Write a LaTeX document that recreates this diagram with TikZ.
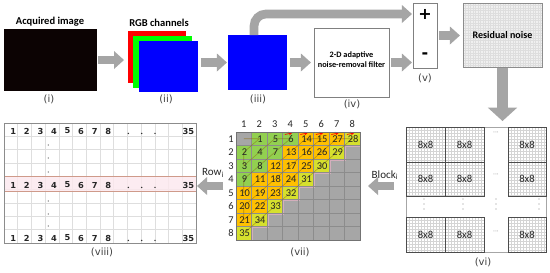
\documentclass[tikz,border=0pt]{standalone}
\usepackage{fontspec}
\setmainfont{Carlito}
\newfontfamily\dejavu{DejaVu Sans}
\usetikzlibrary{arrows.meta}
\definecolor{agray}{HTML}{A5A5A5}
\definecolor{nearblack}{RGB}{12,3,3}
\definecolor{pred}{RGB}{255,0,0}
\definecolor{pgreen}{RGB}{0,255,0}
\definecolor{pblue}{RGB}{0,0,255}
\definecolor{cgreen}{HTML}{92D050}
\definecolor{corange}{HTML}{FFC000}
\definecolor{cyellow}{HTML}{D6E02E}
\definecolor{cgray}{HTML}{A6A6A6}
\definecolor{cpink}{HTML}{F4B4CC}
\definecolor{bandfill}{HTML}{FCE8EE}
\definecolor{bandline}{HTML}{CF9A8A}
\definecolor{zzcol}{HTML}{8A6A10}
\tikzset{
  wh/.style 2 args={minimum width=#1*0.75pt, minimum height=#2*0.75pt},
  rect/.style={anchor=north west, inner sep=0pt, outer sep=0pt},
  fat/.style={draw=agray, line width=6.5pt, -{Triangle[length=7.5pt,width=13.5pt,line width=0pt]}},
  fatbig/.style={draw=agray, line width=8pt, -{Triangle[length=10pt,width=22pt,line width=0pt]}},
  ttl/.style={font=\fontsize{7.9}{9}\selectfont\bfseries, inner sep=0pt},
  lab/.style={font=\dejavu\fontsize{7.5}{9}\selectfont, text=black!75, inner sep=0pt},
  mnum/.style={font=\fontsize{7.8}{8}\selectfont, inner sep=0pt, text=black!85},
  tnum/.style={font=\dejavu\bfseries\fontsize{6.2}{7}\selectfont, inner sep=0pt, text=black!85},
  blk/.style={font=\fontsize{8}{8}\selectfont, inner sep=0pt, text=black!85},
  side/.style={font=\fontsize{8.3}{9}\selectfont, inner sep=0pt, text=black!85},
  mgrid/.style={draw=black!45, line width=0.4pt},
  tgrid/.style={draw=black!13, line width=0.4pt},
  fgrid/.style={draw=black!17, line width=0.25pt},
  zz/.style={draw=zzcol, line width=0.4pt, opacity=0.6},
  redtip/.style={draw=red, line width=0.5pt, -{Stealth[length=2.6pt,width=2.6pt]}},
}
\begin{document}
\begin{tikzpicture}[x=0.75pt,y=-0.75pt]
\useasboundingbox (0,0) rectangle (550,272);
\fill[white] (0,0) rectangle (550,272);

% ---------- top row ----------
\node[ttl] (t1) at (50,22) {Acquired image};
\node[rect, fill=nearblack, wh={93}{62}] (img) at (4,29) {};
\node[lab] (l1) at (49,99) {(i)};

\node[ttl] (t2) at (159,23) {RGB channels};
\node[rect, fill=pred, wh={58}{52}] (red) at (128,31) {};
\node[rect, fill=pgreen, wh={59}{52}] (green) at (133,36) {};
\node[rect, fill=pblue, wh={59}{51}] (blue) at (139,41) {};
\node[lab] (l2) at (166,99) {(ii)};

\node[rect, fill=pblue, wh={59}{55}] (blue3) at (228,35) {};
\node[lab] (l3) at (258,99) {(iii)};

\node[rect, draw=black!50, line width=0.6pt, fill=white, wh={75}{69}] (filt) at (314,28) {};
\node[font=\fontsize{6.2}{7.5}\selectfont\bfseries, align=center, inner sep=0pt]
  (ftxt) at ([yshift=2.4pt]filt.center) {2-D adaptive\\noise-removal filter};
\node[lab] (l4) at (352,104) {(iv)};

\node[rect, draw=black!50, line width=0.6pt, fill=white, wh={24}{65}] (sub) at (413,3) {};
\node[font=\dejavu\bfseries\fontsize{12}{12}\selectfont, inner sep=0pt] (plus) at (425,14) {+};
\node[font=\dejavu\bfseries\fontsize{12}{12}\selectfont, inner sep=0pt] (minus) at (425,56) {-};
\node[lab] (l5) at (425,78) {(v)};

\node[rect, fill=black!6, wh={79}{64}] (resid) at (463,3) {};
\foreach \t in {2.5,5,...,77.5} \draw[black!13, line width=0.2pt] ({463+\t},3) -- ({463+\t},67);
\foreach \t in {2.5,5,...,62.5} \draw[black!13, line width=0.2pt] (463,{3+\t}) -- (542,{3+\t});
\draw[black!45, line width=0.6pt] (resid.north west) rectangle (resid.south east);
\node[font=\fontsize{7.5}{9}\selectfont\bfseries, inner sep=0pt] (rtxt) at (resid) {Residual noise};

% top connectors
\draw[fat, shorten <=0.8pt, shorten >=3pt] (img.east) -- (img.east -| red.west);
\draw[fat, shorten <=2.2pt, shorten >=0.8pt] (blue3.west -| blue.east) -- (blue3.west);
\draw[fat, shorten <=2.2pt, shorten >=2.3pt] (blue3.east) -- (filt.west);
\draw[fat, shorten <=1.5pt, shorten >=0.8pt] (filt.east) -- (filt.east -| sub.west);
\draw[fat, rounded corners=9pt, shorten >=0.8pt] ([xshift=-2.6pt]blue3.north) |- (sub.west |- plus);
\draw[fat, shorten <=1.5pt, shorten >=2.3pt] (sub.east) -- (sub.east -| resid.west);

% ---------- (vi) block grid ----------
\node[rect, draw=black!35, line width=0.5pt, wh={140}{125}] (grid6) at (406,127) {};
\foreach \xa/\xb in {406/445,445/484,508/546}{
  \foreach \ya/\yb in {127/162,162/196,217/252}{
    \foreach \t in {3,6,...,36} \draw[fgrid] ({\xa+\t},\ya) -- ({\xa+\t},\yb);
    \foreach \t in {3,6,...,33} \draw[fgrid] (\xa,{\ya+\t}) -- (\xb,{\ya+\t});
    \draw[black!70, line width=0.7pt] (\xa,\ya) rectangle (\xb,\yb);
    \node[blk] (b\xa\ya) at ({(\xa+\xb)/2},{(\ya+\yb)/2}) {8x8};
  }
}
\foreach \yy in {133,175,232} \node[font=\dejavu\fontsize{4.5}{5}\selectfont, text=black!50, inner sep=0pt] (d\yy) at (496,\yy) {···};
\foreach \xx in {424,463,496,539} \foreach \yy in {199,204,209} \fill[black!45] (\xx,\yy) circle[radius=0.45pt];
\node[lab] (l6) at (483,262) {(vi)};

\draw[fatbig, shorten <=0.8pt, shorten >=4.5pt] (resid.south) -- (resid.south |- grid6.north);

% ---------- (vii) matrix ----------
\fill[cgray] (236,132) rectangle (360,240);
\coordinate (k0) at ({236+0.5*15.5},{132+0.5*13.5});
\foreach \r/\c/\n in {1/2/1,2/1/2,3/1/3,2/2/4,1/3/5,1/4/6,2/3/7,3/2/8,4/1/9,5/1/10,4/2/11,3/3/12,2/4/13,1/5/14,1/6/15,2/5/16,3/4/17,4/3/18,5/2/19,6/1/20,7/1/21,6/2/22,5/3/23,4/4/24,3/5/25,2/6/26,1/7/27,1/8/28,2/7/29,3/6/30,4/5/31,5/4/32,6/3/33,7/2/34,8/1/35}{
  \ifnum\n<10 \def\cc{cgreen}\else\ifnum\n>27 \def\cc{cyellow}\else\def\cc{corange}\fi\fi
  \fill[\cc] ({236+(\c-1)*15.5},{132+(\r-1)*13.5}) rectangle ++(15.5,13.5);
  \coordinate (k\n) at ({236+(\c-0.5)*15.5},{132+(\r-0.5)*13.5});
}
\draw[cpink, line width=1.4pt, opacity=0.6] (360,146.5)--(345.5,146.5)--(345.5,160)--(330,160)--(330,173.5)--(314.5,173.5)--(314.5,187)--(299,187)--(299,200.5)--(283.5,200.5)--(283.5,214)--(268,214)--(268,227.5)--(252.5,227.5)--(252.5,240);
\foreach \k in {0,...,8}{
  \draw[mgrid] ({236+\k*15.5},132) -- ({236+\k*15.5},240);
  \draw[mgrid] (236,{132+\k*13.5}) -- (360,{132+\k*13.5});
}
\draw[zz] (k0) -- (k1) -- (k2) -- (k3) -- (k4) -- (k5) -- (k6) -- (k7) -- (k8) -- (k9) -- (k10) -- (k11) -- (k12) -- (k13) -- (k14) -- (k15) -- (k16) -- (k17) -- (k18) -- (k19) -- (k20) -- (k21) -- (k22) -- (k23) -- (k24) -- (k25) -- (k26) -- (k27) -- (k28) -- (k29) -- (k30) -- (k31) -- (k32) -- (k33) -- (k34) -- (k35);
\foreach \n in {6,14,15,27,28} \draw[redtip] ([xshift=-4pt,yshift=3.2pt]k\n) -- ([xshift=1.5pt,yshift=4.4pt]k\n);
\node[rect, draw=black!55, line width=0.5pt, wh={124}{108}] (mat) at (236,132) {};
\foreach \n in {1,...,35} \node[mnum] (m\n) at ([xshift=0.6pt]k\n) {\n};
\foreach \c in {1,...,8} \node[mnum] (mc\c) at ({236+(\c-0.5)*15.5},124) {\c};
\foreach \r in {1,...,8} \node[mnum] (mr\r) at (231,{132+(\r-0.5)*13.5}) {\r};
\node[lab] (l7) at (300,252) {(vii)};

\node[side] (blabel) at (385,175) {Block\textsubscript{i}};
\draw[fat, shorten <=9pt, shorten >=6pt] (grid6.west |- mat.east) -- (mat.east);

% ---------- (viii) table ----------
\foreach \k in {1,...,13} \draw[tgrid] ({4+\k*13.714},123) -- ({4+\k*13.714},243);
\foreach \k in {1,...,8} \draw[tgrid] (4,{123+\k*13.333}) -- (196,{123+\k*13.333});
\fill[bandfill, opacity=0.8] (4,176.5) rectangle (196,191.5);
\draw[bandline, line width=0.6pt] (4,176.5) rectangle (196,191.5);
\node[rect, draw=black!45, line width=0.6pt, wh={192}{120}] (tab) at (4,123) {};
\foreach \yy/\nm in {131/ta,185/tb,238/tc}{
  \foreach \k in {1,...,8} \node[tnum] (\nm\k) at ({13.3+13.56*(\k-1)},\yy) {\k};
  \node[tnum] (\nm35) at (188.3,\yy) {35};
  \foreach \xx in {128.3,141.7,155} \fill[black!80] (\xx,{\yy+2.4}) circle[radius=0.6pt];
}
\foreach \yy in {145,158,172,201,214,226} \fill[black!70] (48.3,\yy) circle[radius=0.5pt];
\node[lab] (l8) at (102,252) {(viii)};

\node[side] (rlabel) at (213,173) {Row\textsubscript{i}};
\draw[fat, shorten <=9.5pt, shorten >=0.8pt] (mat.west) -- (mat.west -| tab.east);
\end{tikzpicture}
\end{document}
